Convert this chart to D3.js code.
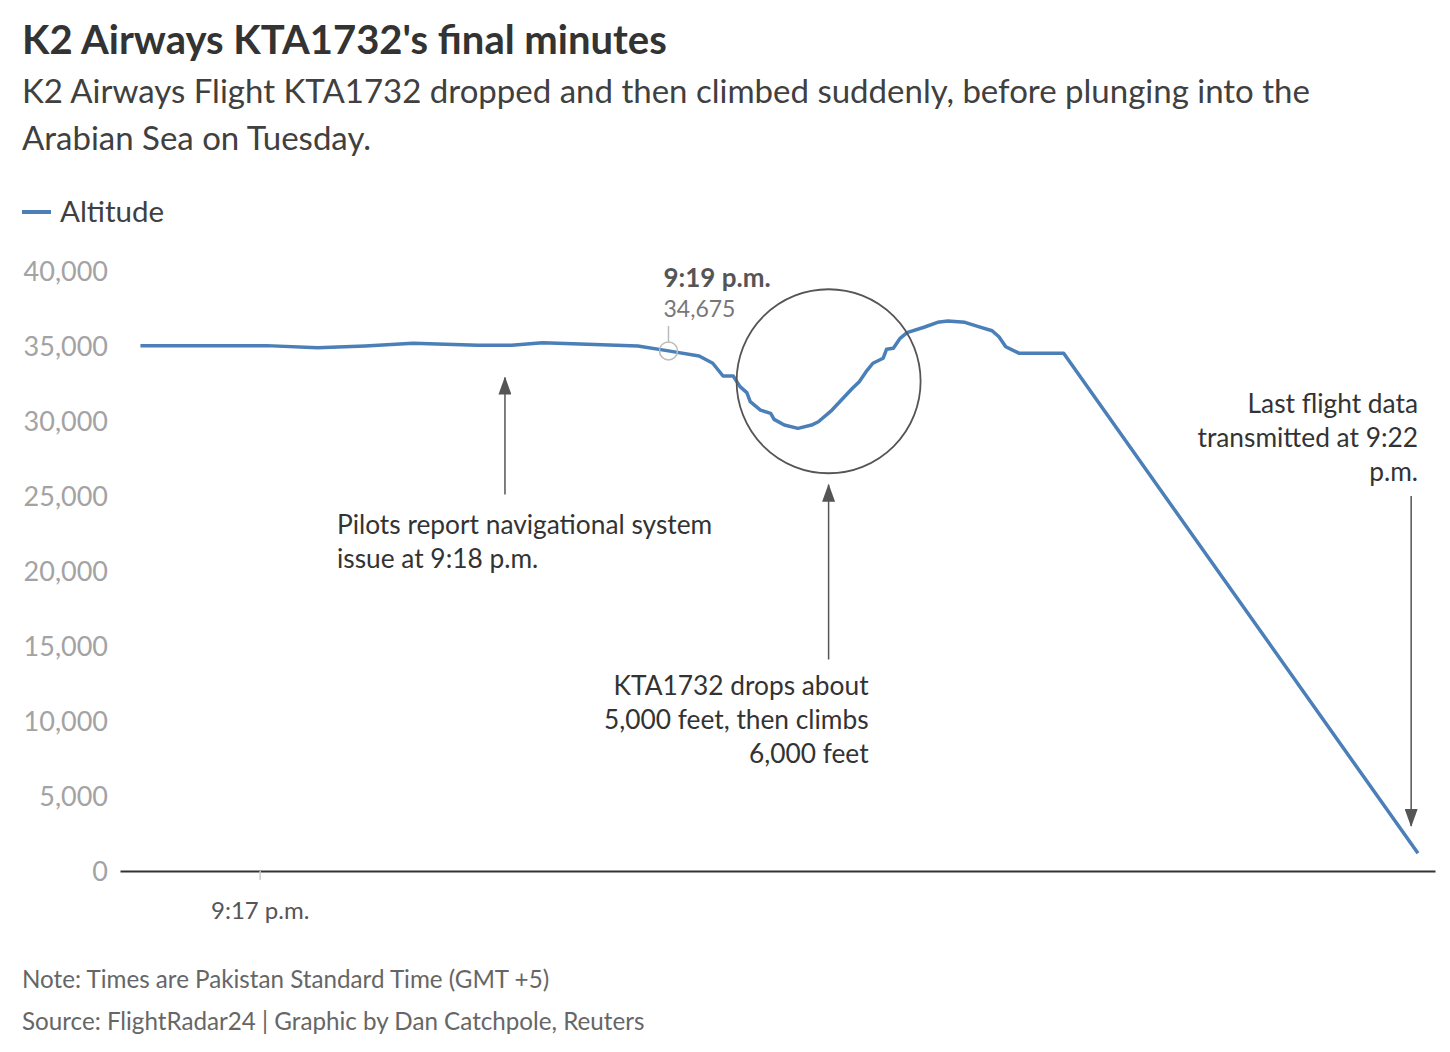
<!DOCTYPE html>
<html>
<head>
<meta charset="utf-8">
<script src="https://cdn.jsdelivr.net/npm/d3@7"></script>
<style>
  body { margin: 0; background: #fff; font-family: Lato, "Noto Sans", sans-serif; }
  .chart svg text { font-family: Lato, "Noto Sans", sans-serif; }
</style>
</head>
<body>
<div class="chart"></div>
<script>
// altitude readings (time of day, feet)
const times = ["21:16:25", "21:16:43", "21:17:02", "21:17:17", "21:17:31", "21:17:45",
  "21:18:04", "21:18:14", "21:18:23", "21:18:34", "21:18:51", "21:19:00", "21:19:09",
  "21:19:13", "21:19:16", "21:19:19", "21:19:21", "21:19:23", "21:19:24", "21:19:27",
  "21:19:30", "21:19:31", "21:19:34", "21:19:38", "21:19:42", "21:19:44", "21:19:48",
  "21:19:54", "21:19:56", "21:19:58", "21:20:00", "21:20:03", "21:20:04", "21:20:06",
  "21:20:08", "21:20:10", "21:20:15", "21:20:19", "21:20:22", "21:20:27", "21:20:31",
  "21:20:35", "21:20:37", "21:20:39", "21:20:43", "21:20:56", "21:22:40"];
const altitude = [35025, 35025, 35025, 34890, 35000, 35180,
  35050, 35050, 35220, 35130, 35000, 34675, 34330,
  33850, 33000, 33000, 32290, 31890, 31290, 30730,
  30510, 30110, 29730, 29510, 29730, 29950, 30730,
  32180, 32620, 33290, 33850, 34180, 34780, 34850,
  35510, 35890, 36250, 36580, 36670, 36580, 36290,
  36020, 35620, 34950, 34510, 34510, 1180];

const yTicks = [0, 5000, 10000, 15000, 20000, 25000, 30000, 35000, 40000];
const xTickTimes = ["21:17:00"];
const xTickLabels = ["9:17 p.m."];

const parseTime = d3.timeParse("%H:%M:%S");
const data = times.map((t, i) => ({ time: parseTime(t), alt: altitude[i] }));

const W = 1450, H = 1052;
const margin = { top: 271, right: 15, bottom: 181, left: 120 };
const width = W - margin.left - margin.right,
  height = H - margin.top - margin.bottom;

const blue = "#4a7fb8";

const root = d3.select(".chart").append("svg")
  .attr("width", W)
  .attr("height", H);

// header ------------------------------
root.append("text")
  .attr("x", 22).attr("y", 54)
  .style("font-size", "40px").style("font-weight", 700)
  .attr("fill", "#333")
  .text("K2 Airways KTA1732's final minutes");

const subLines = ["K2 Airways Flight KTA1732 dropped and then climbed suddenly, before plunging into the",
  "Arabian Sea on Tuesday."];
root.selectAll(".sub").data(subLines).join("text")
  .attr("class", "sub")
  .attr("x", 22).attr("y", (d, i) => 103 + i * 47)
  .style("font-size", "33px")
  .attr("fill", "#404040")
  .text(d => d);

// legend
root.append("line")
  .attr("x1", 22).attr("x2", 51).attr("y1", 212).attr("y2", 212)
  .attr("stroke", blue).attr("stroke-width", 4);
root.append("text")
  .attr("x", 60).attr("y", 222)
  .style("font-size", "29.5px").attr("fill", "#404040")
  .text("Altitude");

// chart ------------------------------
const svg = root.append("g")
  .attr("transform", `translate(${margin.left}, ${margin.top})`);

const xScale = d3.scaleTime()
  .domain([parseTime("21:16:19"), parseTime("21:22:45")])
  .range([0, width]);
const yScale = d3.scaleLinear().domain([0, 40000]).range([height, 0]);

// y axis labels (no axis line)
const yAxis = d3.axisLeft(yScale).tickValues(yTicks).tickFormat(d3.format(",")).tickSize(0).tickPadding(12);
svg.append("g").attr("class", "y-axis").call(yAxis)
  .call(g => g.select(".domain").remove())
  .call(g => g.selectAll("text").style("font-size", "27px").attr("fill", "#a3a3a3").attr("dy", "0.35em"));

// x axis
const xAxis = d3.axisBottom(xScale)
  .tickValues(xTickTimes.map(parseTime))
  .tickFormat((d, i) => xTickLabels[i])
  .tickSize(9).tickPadding(17).tickSizeOuter(0);
svg.append("g").attr("class", "x-axis")
  .attr("transform", `translate(0, ${height})`)
  .call(xAxis)
  .call(g => g.select(".domain").attr("stroke", "#333").attr("stroke-width", 2))
  .call(g => g.selectAll(".tick line").attr("stroke", "#ccc").attr("stroke-width", 1.5))
  .call(g => g.selectAll("text").style("font-size", "24px").attr("fill", "#555").attr("dy", "0.9em"));

// altitude line
const line = d3.line()
  .x(d => xScale(d.time))
  .y(d => yScale(d.alt));
svg.append("path")
  .datum(data)
  .attr("fill", "none")
  .attr("stroke", blue)
  .attr("stroke-width", 3.5)
  .attr("stroke-linejoin", "round")
  .attr("d", line);

// annotations ------------------------------
const gray = "#555";
root.append("defs").append("marker")
  .attr("id", "arrow")
  .attr("viewBox", "0 0 18 13")
  .attr("refX", 17).attr("refY", 6.5)
  .attr("markerWidth", 18).attr("markerHeight", 13)
  .attr("markerUnits", "userSpaceOnUse")
  .attr("orient", "auto")
  .append("path").attr("d", "M0,0 L18,6.5 L0,13 Z").attr("fill", gray);

// highlighted point at 9:19 p.m.
const hl = data[11];
const hx = xScale(hl.time), hy = yScale(hl.alt);
svg.append("line")
  .attr("x1", hx).attr("x2", hx).attr("y1", hy - 9).attr("y2", hy - 25)
  .attr("stroke", "#bbb").attr("stroke-width", 1.5);
svg.append("circle")
  .attr("cx", hx).attr("cy", hy).attr("r", 9)
  .attr("fill", "none").attr("stroke", "#bbb").attr("stroke-width", 1.5);
svg.append("text")
  .attr("x", hx - 5).attr("y", hy - 64)
  .style("font-size", "26px").style("font-weight", 700).attr("fill", gray)
  .text("9:19 p.m.");
svg.append("text")
  .attr("x", hx - 5).attr("y", hy - 34)
  .style("font-size", "23px").attr("fill", "#777")
  .text(d3.format(",")(hl.alt));

// arrow helper: vertical arrow from y1 to y2 (head at y2)
function arrow(x, y1, y2) {
  svg.append("line")
    .attr("x1", x).attr("x2", x).attr("y1", y1).attr("y2", y2)
    .attr("stroke", gray).attr("stroke-width", 1.5)
    .attr("marker-end", "url(#arrow)");
}
function label(x, y, lines, anchor) {
  svg.append("text")
    .attr("text-anchor", anchor)
    .style("font-size", "26.3px").attr("fill", "#333")
    .selectAll("tspan").data(lines).join("tspan")
    .attr("x", x).attr("y", (d, i) => y + i * 34)
    .text(d => d);
}

// navigational issue
const ax1 = xScale(parseTime("21:18:12"));
arrow(ax1, yScale(25100), yScale(32900));
label(ax1 - 168, yScale(22450), ["Pilots report navigational system", "issue at 9:18 p.m."], "start");

// drop & climb circle
const cx = xScale(parseTime("21:19:47")), cy = yScale(32650);
svg.append("circle")
  .attr("cx", cx).attr("cy", cy).attr("r", 92)
  .attr("fill", "none").attr("stroke", gray).attr("stroke-width", 1.8);
arrow(cx, yScale(14100), yScale(25750));
label(cx + 40, yScale(11750), ["KTA1732 drops about", "5,000 feet, then climbs", "6,000 feet"], "end");

// last data
const ax3 = xScale(parseTime("21:22:38"));
arrow(ax3, yScale(25000), yScale(3000));
label(width - 17, yScale(30550), ["Last flight data", "transmitted at 9:22", "p.m."], "end");

// footnotes ------------------------------
const notes = ["Note: Times are Pakistan Standard Time (GMT +5)",
  "Source: FlightRadar24 | Graphic by Dan Catchpole, Reuters"];
root.selectAll(".note").data(notes).join("text")
  .attr("class", "note")
  .attr("x", 22).attr("y", (d, i) => 988 + i * 42)
  .style("font-size", "24.2px").attr("fill", "#666")
  .text(d => d);
</script>
</body>
</html>
